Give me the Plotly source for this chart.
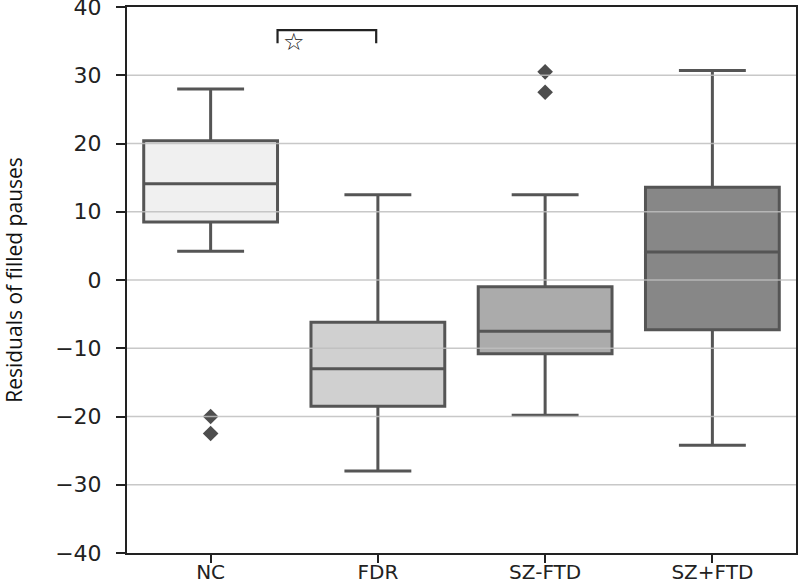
import plotly.graph_objects as go

categories = ["NC", "FDR", "SZ-FTD", "SZ+FTD"]
lower_whisker = [4.2, -28.0, -19.8, -24.2]
q1_vals = [8.5, -18.5, -10.8, -7.3]
median_vals = [14.1, -13.0, -7.5, 4.1]
q3_vals = [20.4, -6.2, -1.0, 13.6]
upper_whisker = [28.0, 12.5, 12.5, 30.7]
fill_colors = ["#f0f0f0", "#d0d0d0", "#ababab", "#878787"]

outlier_cats = ["NC", "NC", "SZ-FTD", "SZ-FTD"]
outlier_vals = [-20.0, -22.5, 30.5, 27.5]

y_ticks = [-40, -30, -20, -10, 0, 10, 20, 30, 40]
y_tick_labels = ["\u221240", "\u221230", "\u221220", "\u221210", "0", "10", "20", "30", "40"]

line_col = "#555555"

fig = go.Figure()
for i, c in enumerate(categories):
    fig.add_trace(go.Box(
        x=[c], q1=[q1_vals[i]], median=[median_vals[i]], q3=[q3_vals[i]],
        lowerfence=[lower_whisker[i]], upperfence=[upper_whisker[i]],
        width=0.8, whiskerwidth=0.5, fillcolor=fill_colors[i],
        line=dict(color=line_col, width=3), boxpoints=False, showlegend=False,
        hoverinfo="skip",
    ))

fig.add_trace(go.Scatter(
    x=outlier_cats, y=outlier_vals, mode="markers",
    marker=dict(symbol="diamond", size=12, color="#4d4d4d"),
    showlegend=False, hoverinfo="skip",
))

shapes = []
for v in y_ticks[1:-1]:
    shapes.append(dict(type="line", xref="paper", yref="y", x0=0, x1=1, y0=v, y1=v,
                       line=dict(color="rgba(190,190,190,0.85)", width=1.5), layer="above"))
# significance bracket
shapes.append(dict(type="path", xref="x", yref="y",
                   path="M 0.4,34.7 L 0.4,36.6 L 0.99,36.6 L 0.99,34.7",
                   line=dict(color="#222222", width=2.2), layer="above"))

fig.update_layout(
    width=800, height=582,
    margin=dict(l=127, r=4, t=7, b=29),
    paper_bgcolor="white", plot_bgcolor="white",
    boxmode="overlay",
    shapes=shapes,
    annotations=[dict(x=0.5, y=34.9, xref="x", yref="y", text="\u2606", showarrow=False,
                      font=dict(family="DejaVu Sans", size=24, color="#111111"))],
)
fig.update_xaxes(
    categoryorder="array", categoryarray=categories, range=[-0.5, 3.5],
    showline=True, linecolor="#222222", linewidth=2, mirror=True,
    ticks="outside", ticklen=8, tickwidth=2, tickcolor="#222222",
    tickfont=dict(family="DejaVu Sans", size=20, color="#222222"),
    ticklabelstandoff=-8,
    showgrid=False, automargin=False, zeroline=False, ticklabeloverflow="allow",
)
fig.update_yaxes(
    range=[-40, 40], tickvals=y_ticks, ticktext=y_tick_labels,
    showline=True, linecolor="#222222", linewidth=2, mirror=True,
    ticks="outside", ticklen=9, tickwidth=2, tickcolor="#222222",
    tickfont=dict(family="DejaVu Sans", size=22, color="#222222"),
    ticklabelstandoff=10, ticklabeloverflow="allow",
    showgrid=False, zeroline=False, automargin=False,
    title=dict(text="Residuals of filled pauses", standoff=30,
               font=dict(family="Open Sans", size=21, color="#111111")),
)

fig.write_html("out.html", config={"displayModeBar": False},
               post_script="document.body.style.margin='0';document.body.style.overflow='hidden';")
